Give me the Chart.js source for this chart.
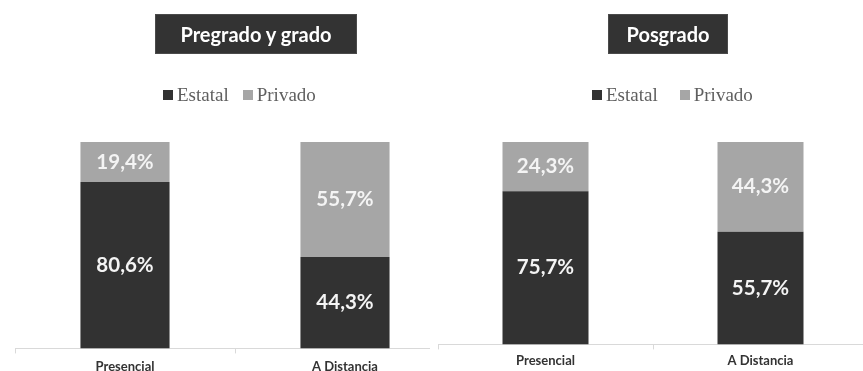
<!DOCTYPE html>
<html>
<head>
<meta charset="utf-8">
<script src="https://cdn.jsdelivr.net/npm/chart.js@4.4.0/dist/chart.umd.min.js"></script>
<style>
  body { margin: 0; background: #fff; }
  #wrap { position: relative; width: 863px; height: 371px; overflow: hidden; background: #fff; }
  .panel { position: absolute; top: 0; width: 480px; height: 390px; background: #fff; }
  #panelGrado { left: 0; }
  #panelPosgrado { left: 430px; }
  .panel canvas { position: absolute; left: 0; top: 0; }
  .title {
    position: absolute; top: 15px; height: 38px;
    background: #333; color: #fff; text-align: center;
    font: bold 20px Lato, sans-serif; line-height: 38px;
    box-shadow: 0 0 0 1px #4a4a4a;
  }
  .legend { position: absolute; top: 84px; display: flex; align-items: center; white-space: nowrap; }
  .legend .item { display: flex; align-items: center; }
  .legend .box { width: 10px; height: 10px; margin-right: 4px; }
  .legend .text { font: 19px "Liberation Serif", serif; color: #5f5f5f; line-height: 22px; }
</style>
</head>
<body>
<div id="wrap">
  <div class="panel" id="panelGrado">
    <canvas id="chartGrado" width="480" height="390"></canvas>
    <div class="title" style="left:156px; width:200px;">Pregrado y grado</div>
    <div class="legend" id="legendGrado" style="left:163px;"></div>
  </div>
  <div class="panel" id="panelPosgrado">
    <canvas id="chartPosgrado" width="480" height="390"></canvas>
    <div class="title" style="left:179px; width:118px;">Posgrado</div>
    <div class="legend" id="legendPosgrado" style="left:162px;"></div>
  </div>
</div>
<script>
const categories = ['Presencial', 'A Distancia'];
const seriesNames = ['Estatal', 'Privado'];
const seriesColors = ['#323232', '#a6a6a6'];

const gradoEstatal = [80.6, 44.3];
const gradoPrivado = [19.4, 55.7];
const posgradoEstatal = [75.7, 55.7];
const posgradoPrivado = [24.3, 44.3];

function fmt(v) {
  return v.toFixed(1).replace('.', ',') + '%';
}

// value text in the middle of each stacked segment
const valueLabels = {
  id: 'valueLabels',
  afterDatasetsDraw(chart) {
    const ctx = chart.ctx;
    ctx.save();
    ctx.font = 'bold 20.5px Lato, sans-serif';
    ctx.fillStyle = '#f4f4f4';
    ctx.textAlign = 'center';
    ctx.textBaseline = 'middle';
    chart.data.datasets.forEach((ds, i) => {
      chart.getDatasetMeta(i).data.forEach((bar, j) => {
        const p = bar.getProps(['x', 'y', 'base'], true);
        ctx.fillText(fmt(ds.data[j]), p.x, (p.y + p.base) / 2);
      });
    });
    ctx.restore();
  }
};

// legend built from the chart's own legend items
function htmlLegend(containerId, gap) {
  return {
    id: 'htmlLegend',
    afterUpdate(chart) {
      const box = document.getElementById(containerId);
      box.innerHTML = '';
      const items = chart.options.plugins.legend.labels.generateLabels(chart);
      items.forEach((it, k) => {
        const el = document.createElement('div');
        el.className = 'item';
        if (k > 0) el.style.marginLeft = gap + 'px';
        const sq = document.createElement('span');
        sq.className = 'box';
        sq.style.background = it.fillStyle;
        const tx = document.createElement('span');
        tx.className = 'text';
        tx.textContent = it.text;
        el.appendChild(sq);
        el.appendChild(tx);
        box.appendChild(el);
      });
    }
  };
}

function makeChart(canvasId, legendId, estatal, privado, cfg) {
  return new Chart(document.getElementById(canvasId), {
    type: 'bar',
    data: {
      labels: categories,
      datasets: [
        { label: seriesNames[0], data: estatal, backgroundColor: seriesColors[0] },
        { label: seriesNames[1], data: privado, backgroundColor: seriesColors[1] }
      ]
    },
    options: {
      responsive: false,
      animation: false,
      events: [],
      layout: { padding: cfg.padding },
      datasets: {
        bar: { barPercentage: cfg.barPct, categoryPercentage: 1 }
      },
      plugins: {
        legend: { display: false },
        tooltip: { enabled: false }
      },
      scales: {
        x: {
          stacked: true,
          grid: {
            display: true, drawOnChartArea: false, drawTicks: true,
            tickLength: 5, color: '#d9d9d9'
          },
          border: { display: true, color: '#d9d9d9', width: 1 },
          ticks: {
            padding: cfg.tickPad,
            color: '#333',
            font: { family: 'Lato, sans-serif', size: 13, weight: 'bold' }
          }
        },
        y: { stacked: true, display: false, min: 0, max: 100 }
      }
    },
    plugins: [valueLabels, htmlLegend(legendId, cfg.legendGap)]
  });
}

makeChart('chartGrado', 'legendGrado', gradoEstatal, gradoPrivado, {
  padding: { top: 142, left: 15, right: 25, bottom: 9 },
  barPct: 0.405,
  tickPad: 6,
  legendGap: 14
});

makeChart('chartPosgrado', 'legendPosgrado', posgradoEstatal, posgradoPrivado, {
  padding: { top: 142, left: 8, right: 42, bottom: 17 },
  barPct: 0.4,
  tickPad: 4,
  legendGap: 22
});
</script>
</body>
</html>
